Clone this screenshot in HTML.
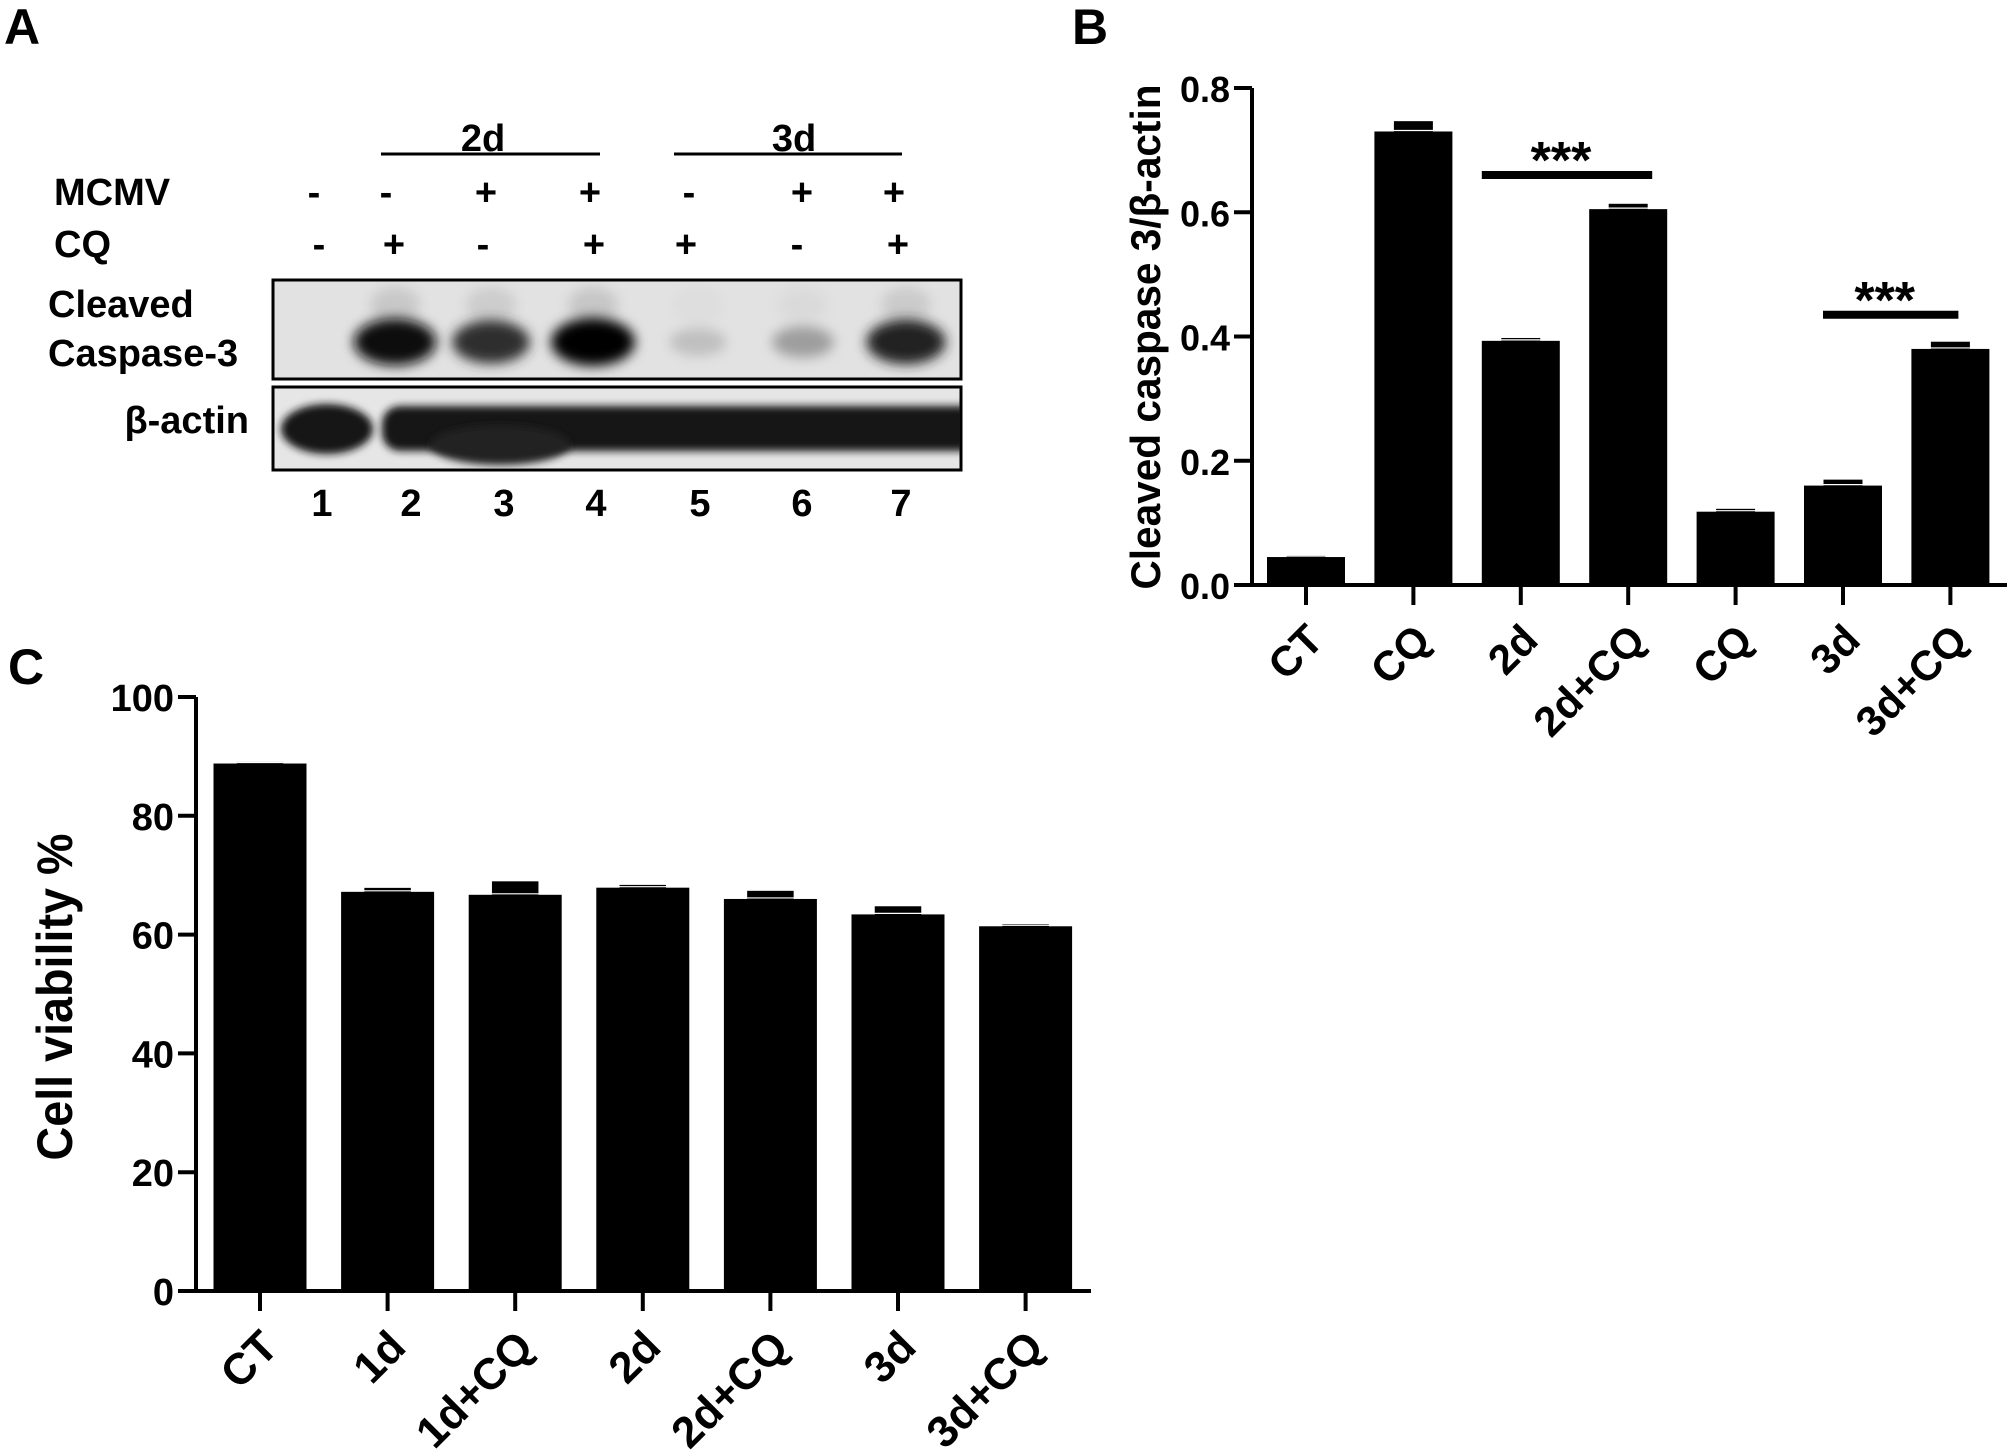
<!DOCTYPE html>
<html><head><meta charset="utf-8"><style>
html,body{margin:0;padding:0;background:#fff}
svg{display:block}
text{font-family:"Liberation Sans",Arial,sans-serif;font-weight:bold;fill:#000}
</style></head><body>
<svg id="fig" width="2009" height="1455" viewBox="0 0 2009 1455" xmlns="http://www.w3.org/2000/svg">
<defs>
<filter id="blur8" x="-50%" y="-50%" width="200%" height="200%"><feGaussianBlur stdDeviation="6"/></filter>
<filter id="blur4" x="-50%" y="-50%" width="200%" height="200%"><feGaussianBlur stdDeviation="4"/></filter>
<clipPath id="clip1"><rect x="275" y="281" width="685" height="96"/></clipPath>
<clipPath id="clip2"><rect x="275" y="388" width="685" height="80"/></clipPath>
</defs>

<!-- Panel A -->
<g>
<text x="4" y="44" font-size="50">A</text>
<text x="483" y="151" font-size="38" text-anchor="middle">2d</text>
<line x1="381" y1="154" x2="600" y2="154" stroke="#000" stroke-width="3"/>
<text x="794" y="151" font-size="38" text-anchor="middle">3d</text>
<line x1="674" y1="154" x2="902" y2="154" stroke="#000" stroke-width="3"/>
<text x="54" y="205" font-size="38">MCMV</text>
<text x="54" y="257" font-size="38">CQ</text>
<g id="signs"></g>
<text x="48" y="317" font-size="38">Cleaved</text>
<text x="48" y="366" font-size="38">Caspase-3</text>
<text x="249" y="433" font-size="38" text-anchor="end">β-actin</text>
<g>
<rect x="273" y="280" width="688" height="99" fill="#e2e2e2" stroke="#000" stroke-width="3"/>
<g clip-path="url(#clip1)" id="casp"></g>
</g>
<g>
<rect x="273" y="387" width="688" height="83" fill="#e6e6e6" stroke="#000" stroke-width="3"/>
<g clip-path="url(#clip2)">
<ellipse cx="327" cy="429" rx="46" ry="25" fill="#151515" filter="url(#blur4)"/>
<rect x="382" y="406" width="600" height="45" rx="18" fill="#151515" filter="url(#blur4)"/>
<ellipse cx="500" cy="445" rx="70" ry="20" fill="#202020" filter="url(#blur4)"/>
</g>
</g>
<g id="lanes"></g>
</g>

<!-- Panel B -->
<g>
<text x="1072" y="44" font-size="50">B</text>
<g id="chartB"></g>
</g>

<!-- Panel C -->
<g>
<text x="8" y="684" font-size="50">C</text>
<g id="chartC"></g>
</g>
</svg>
<script>
const NS="http://www.w3.org/2000/svg";
// Panel B data
const catsB=["CT","CQ","2d","2d+CQ","CQ","3d","3d+CQ"];
const valsB=[0.045,0.73,0.393,0.605,0.118,0.16,0.38];
const errB=[0.001,0.015,0.003,0.007,0.003,0.008,0.01];
const ticksB=[0,0.2,0.4,0.6,0.8];
const tickLabelsB=["0.0","0.2","0.4","0.6","0.8"];
const sigB=[[2,3,0.66,"***"],[5,6,0.435,"***"]];
// Panel C data
const catsC=["CT","1d","1d+CQ","2d","2d+CQ","3d","3d+CQ"];
const valsC=[88.8,67.2,66.7,67.9,66.0,63.4,61.4];
const errC=[0.1,0.5,2.1,0.3,1.2,1.2,0.2];
const ticksC=[0,20,40,60,80,100];
const tickLabelsC=["0","20","40","60","80","100"];
// Panel A data
const mcmv=["-","-","+","+","-","+","+"];
const cq=["-","+","-","+","+","-","+"];
const laneNums=["1","2","3","4","5","6","7"];
const caspIntensity=[0,0.95,0.8,1,0.15,0.3,0.85];

function el(tag,attrs,parent){const e=document.createElementNS(NS,tag);for(const k in attrs)e.setAttribute(k,attrs[k]);parent.appendChild(e);return e;}

function drawChart(g,o){
  const y=v=>o.y0-(v-o.vmin)/(o.vmax-o.vmin)*(o.y0-o.y1);
  const x=i=>o.x0c+i*o.step;
  o.vals.forEach((v,i)=>{
    const r=el("rect",{x:x(i)-o.bw/2,y:y(v),width:o.bw,height:o.y0-y(v),fill:"#000"},g);
    
    
    const e=el("rect",{x:x(i)-o.bw*0.25,y:y(v+o.errs[i])-1,width:o.bw*0.5,height:Math.max(3,y(v)-y(v+o.errs[i])+2),fill:"#000"},g);
    
    
    const ln=el("line",{x1:x(i)-o.bw/2,y1:y(v)-1,x2:x(i)+o.bw/2,y2:y(v)-1,stroke:"#fff",'stroke-width':1.2},g);
    
    
    const t=el("line",{x1:x(i),y1:o.y0,x2:x(i),y2:o.y0+o.tickLen,stroke:"#000",'stroke-width':4},g);
    
    
    const lx=x(i)-2, ly=o.y0+o.tickLen+16;
    const tl=el("text",{x:lx,y:ly,'font-size':o.xfs,'text-anchor':'end',transform:`rotate(-45 ${lx} ${ly})`,dy:"0.72em"},g);
    tl.textContent=o.cats[i];
    
    
  });
  const ya=el("line",{x1:o.ax,y1:o.y1,x2:o.ax,y2:o.y0+2,stroke:"#000",'stroke-width':4},g);
  
  
  const xa=el("line",{x1:o.ax-18,y1:o.y0,x2:o.xend,y2:o.y0,stroke:"#000",'stroke-width':4},g);
  
  
  o.ticks.forEach((v,i)=>{
    const t=el("line",{x1:o.ax-18,y1:y(v),x2:o.ax,y2:y(v),stroke:"#000",'stroke-width':4},g);
    
    
    const tl=el("text",{x:o.ax-22,y:y(v)+14,'font-size':o.yfs,'text-anchor':'end'},g);
    tl.textContent=o.tickLabels[i];
    
    
  });
  const tt=el("text",{x:o.tx,y:o.ty,'font-size':o.tfs,'text-anchor':'middle',transform:`rotate(-90 ${o.tx} ${o.ty})`,textLength:o.tlen,lengthAdjust:'spacingAndGlyphs'},g);
  tt.textContent=o.title;
  
  
  (o.sig||[]).forEach((s,k)=>{
    const yy=y(s[2]);
    const x1=k===0?x(s[0])-o.bw/2:x(s[0])-20;
    const x2=k===0?x(s[1])+o.bw/2-15:x(s[1])+o.bw/2-31;
    const l=el("line",{x1:x1,y1:yy,x2:x2,y2:yy,stroke:"#000",'stroke-width':8},g);
    
    
    const st=el("text",{x:(x1+x2)/2-6,y:yy+3,'font-size':52,'text-anchor':'middle'},g);
    st.textContent=s[3];
    
    
  });
}

drawChart(document.getElementById('chartB'),{cats:catsB,vals:valsB,errs:errB,ticks:ticksB,tickLabels:tickLabelsB,
  vmin:0,vmax:0.8,y0:585,y1:88,x0c:1306,step:107.4,bw:78,ax:1252,xend:2007,tickLen:20,xfs:42,yfs:36,
  title:"Cleaved caspase 3/β-actin",tx:1160,ty:337,tfs:42,tlen:505,sig:sigB});
drawChart(document.getElementById('chartC'),{cats:catsC,vals:valsC,errs:errC,ticks:ticksC,tickLabels:tickLabelsC,
  vmin:0,vmax:100,y0:1291,y1:697,x0c:260,step:127.6,bw:93,ax:196,xend:1091,tickLen:20,xfs:44,yfs:38,
  title:"Cell viability %",tx:72,ty:997,tfs:50,tlen:327});

// Panel A
const signs=document.getElementById('signs');
const mx=[314,386,486,590,689,802,894], cx=[319,394,483,594,686,797,898];
mcmv.forEach((s,i)=>{const t=el("text",{x:mx[i],y:205,'font-size':38,'text-anchor':'middle'},signs);t.textContent=s;
  
  });
cq.forEach((s,i)=>{const t=el("text",{x:cx[i],y:257,'font-size':38,'text-anchor':'middle'},signs);t.textContent=s;
  
  });
const lanes=document.getElementById('lanes');
const lx=[322,411,504,596,700,802,901];
laneNums.forEach((n,i)=>{const t=el("text",{x:lx[i],y:516,'font-size':38,'text-anchor':'middle'},lanes);t.textContent=n;
  
  });
const casp=document.getElementById('casp');
const bx=[327,395,491,593,698,803,906];
caspIntensity.forEach((v,i)=>{ if(v<=0) return;
  const g=Math.round(225-v*225);
  const b=el("ellipse",{cx:bx[i],cy:342,rx:26+v*16,ry:12+v*12,fill:`rgb(${g},${g},${g})`,filter:"url(#blur8)"},casp);
  
  
  const h=el("ellipse",{cx:bx[i],cy:305,rx:25,ry:18,fill:`rgba(0,0,0,${v*0.12})`,filter:"url(#blur8)"},casp);
  
  
});
</script>
</body></html>
